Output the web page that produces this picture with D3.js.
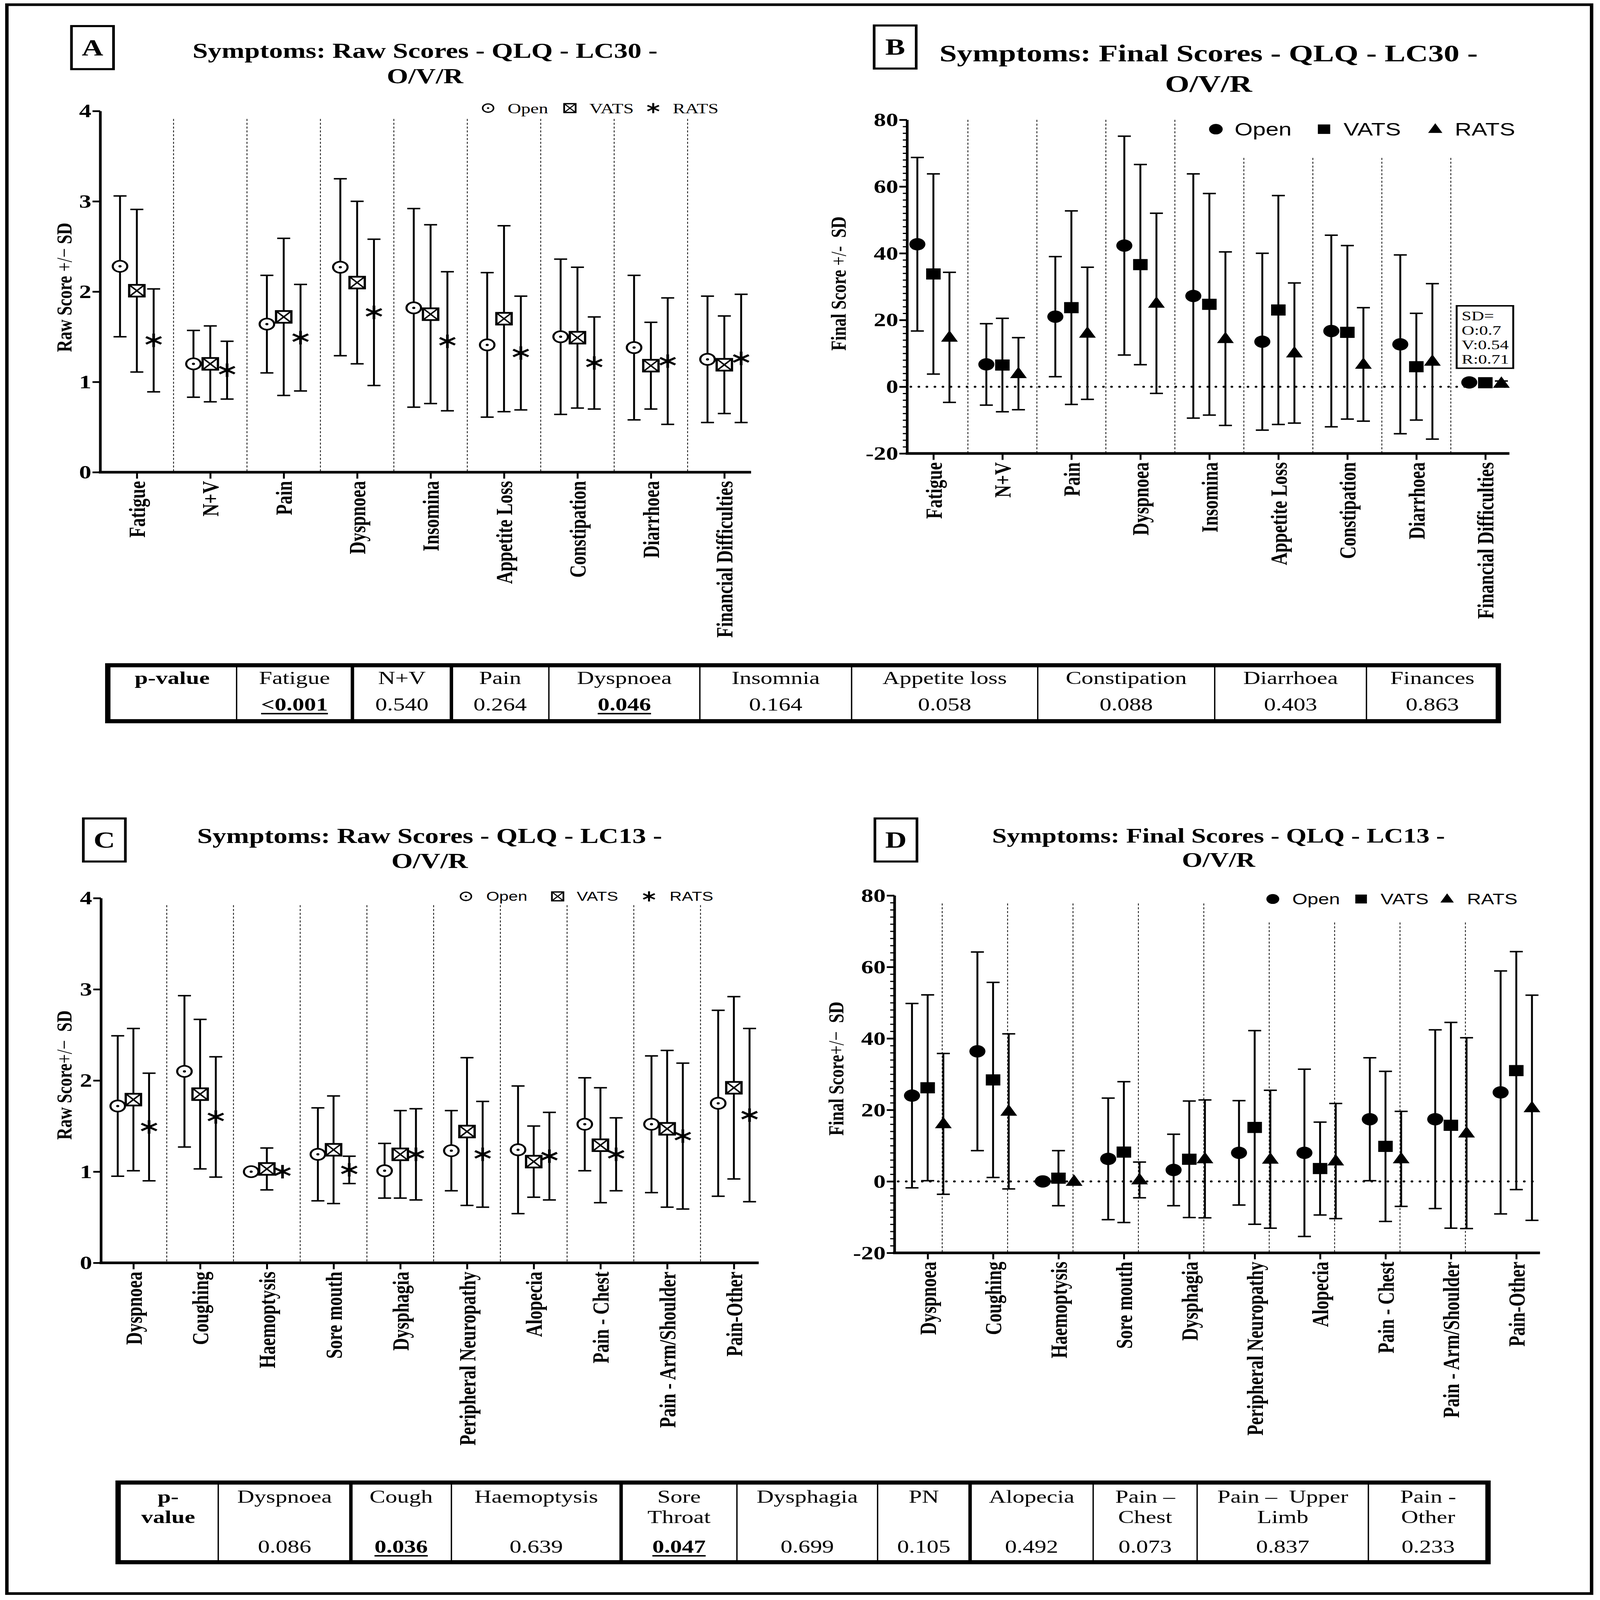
<!DOCTYPE html>
<html>
<head>
<meta charset="utf-8">
<script src="https://cdn.jsdelivr.net/npm/d3@7"></script>
<style>
  html, body { margin: 0; background: #fff; overflow: hidden; }
  svg { display: block; }
  text { white-space: pre; }
</style>
</head>
<body>
<svg id="fig"></svg>
<script>
// ---- data ----
const catsLC30 = ["Fatigue", "N+V", "Pain", "Dyspnoea", "Insomina", "Appetite Loss", "Constipation", "Diarrhoea", "Financial Difficulties"];
const catsLC13 = ["Dyspnoea", "Coughing", "Haemoptysis", "Sore mouth", "Dysphagia", "Peripheral Neuropathy", "Alopecia", "Pain - Chest", "Pain - Arm/Shoulder", "Pain-Other"];
const groups = ["Open", "VATS", "RATS"];

// A: raw scores LC30 (mean, SD)
const rawLC30Open = [2.28, 1.20, 1.64, 2.27, 1.82, 1.41, 1.50, 1.38, 1.25];
const rawLC30OpenSD = [0.78, 0.37, 0.54, 0.98, 1.10, 0.80, 0.86, 0.80, 0.70];
const rawLC30Vats = [2.01, 1.20, 1.72, 2.10, 1.75, 1.70, 1.49, 1.18, 1.19];
const rawLC30VatsSD = [0.90, 0.42, 0.87, 0.90, 0.99, 1.03, 0.78, 0.48, 0.54];
const rawLC30Rats = [1.46, 1.13, 1.49, 1.77, 1.45, 1.32, 1.21, 1.23, 1.26];
const rawLC30RatsSD = [0.57, 0.32, 0.59, 0.81, 0.77, 0.63, 0.51, 0.70, 0.71];

// B: final scores LC30
const finalLC30Open = [42.7, 6.7, 21.0, 42.3, 27.2, 13.5, 16.7, 12.7, 1.3];
const finalLC30OpenSD = [26.0, 12.2, 18.0, 32.8, 36.6, 26.5, 28.7, 26.8, 0.7];
const finalLC30Vats = [33.8, 6.5, 23.7, 36.6, 24.7, 23.0, 16.3, 6.0, 1.2];
const finalLC30VatsSD = [30.0, 14.0, 29.0, 30.0, 33.2, 34.3, 26.0, 16.0, 0.54];
const finalLC30Rats = [14.8, 3.9, 16.0, 25.0, 14.4, 10.1, 6.7, 7.6, 1.0];
const finalLC30RatsSD = [19.5, 10.8, 19.8, 27.0, 26.0, 21.0, 17.0, 23.3, 0.71];
const sdNote = ["SD=", "O:0.7", "V:0.54", "R:0.71"];

// C: raw scores LC13
const rawLC13Open = [1.72, 2.10, 1.00, 1.19, 1.01, 1.23, 1.24, 1.52, 1.52, 1.75];
const rawLC13OpenSD = [0.77, 0.83, 0, 0.51, 0.30, 0.44, 0.70, 0.51, 0.75, 1.02];
const rawLC13Vats = [1.79, 1.85, 1.03, 1.24, 1.19, 1.44, 1.11, 1.29, 1.47, 1.92];
const rawLC13VatsSD = [0.78, 0.82, 0.23, 0.59, 0.48, 0.81, 0.39, 0.63, 0.86, 1.00];
const rawLC13Rats = [1.49, 1.60, 1.00, 1.02, 1.19, 1.19, 1.17, 1.19, 1.39, 1.62];
const rawLC13RatsSD = [0.59, 0.66, 0, 0.15, 0.50, 0.58, 0.48, 0.40, 0.80, 0.95];

// D: final scores LC13
const finalLC13Open = [24.0, 36.4, 0, 6.3, 3.2, 8.0, 8.0, 17.4, 17.4, 24.9];
const finalLC13OpenSD = [25.8, 27.8, 0, 17.0, 10.0, 14.6, 23.4, 17.2, 25.0, 34.0];
const finalLC13Vats = [26.2, 28.4, 0.9, 8.2, 6.2, 15.1, 3.6, 9.8, 15.7, 31.0];
const finalLC13VatsSD = [26.0, 27.3, 7.7, 19.7, 16.3, 27.1, 13.0, 21.0, 28.8, 33.3];
const finalLC13Rats = [16.1, 19.6, 0, 0.4, 6.3, 6.2, 5.7, 6.3, 13.5, 20.6];
const finalLC13RatsSD = [19.7, 21.7, 0, 5.0, 16.5, 19.3, 16.1, 13.3, 26.7, 31.5];

// p-value tables
const pTable1Head = [["p-value"], ["Fatigue"], ["N+V"], ["Pain"], ["Dyspnoea"], ["Insomnia"], ["Appetite loss"], ["Constipation"], ["Diarrhoea"], ["Finances"]];
const pTable1Vals = ["", "<0.001", "0.540", "0.264", "0.046", "0.164", "0.058", "0.088", "0.403", "0.863"];
const pTable1Sig = [false, true, false, false, true, false, false, false, false, false];
const pTable2Head = [["p-", "value"], ["Dyspnoea"], ["Cough"], ["Haemoptysis"], ["Sore", "Throat"], ["Dysphagia"], ["PN"], ["Alopecia"], ["Pain \u2013", "Chest"], ["Pain \u2013  Upper", "Limb"], ["Pain -", "Other"]];
const pTable2Vals = ["", "0.086", "0.036", "0.639", "0.047", "0.699", "0.105", "0.492", "0.073", "0.837", "0.233"];
const pTable2Sig = [false, false, true, false, true, false, false, false, false, false, false];

// ---- drawing ----
const W = 4186, H = 5462;
const SERIF = "'Liberation Serif','Times New Roman',serif";
const SANS = "'Liberation Sans',Arial,sans-serif";
// the figure is laid out on a 4186x5462 canvas and stretched to whatever window it is shown in
const svg = d3.select("#fig")
  .attr("viewBox", `0 0 ${W} ${H}`)
  .attr("preserveAspectRatio", "none")
  .attr("width", window.innerWidth || W)
  .attr("height", window.innerHeight || H);
svg.append("rect").attr("width", W).attr("height", H).attr("fill", "#fff");
svg.append("rect").attr("x", 18).attr("y", 16).attr("width", 4146).attr("height", 5424)
  .attr("fill", "none").attr("stroke", "#000").attr("stroke-width", 9);

function marker(g, type, cx, cy, k = 1) {
  const m = g.append("g").attr("transform", `translate(${cx},${cy}) scale(${k})`);
  if (type === "ring") {
    m.append("circle").attr("r", 19).attr("fill", "#fff").attr("stroke", "#000").attr("stroke-width", 5.5);
    m.append("circle").attr("r", 4).attr("fill", "#000");
  } else if (type === "xbox") {
    m.append("rect").attr("x", -20).attr("y", -20).attr("width", 40).attr("height", 40)
      .attr("fill", "#fff").attr("stroke", "#000").attr("stroke-width", 6);
    m.append("path").attr("d", "M-17,-17L17,17M17,-17L-17,17").attr("stroke", "#000").attr("stroke-width", 4.5);
  } else if (type === "star") {
    m.append("path").attr("d", "M0,-23L0,23M-20,-11.5L20,11.5M-20,11.5L20,-11.5")
      .attr("stroke", "#000").attr("stroke-width", 7);
  } else if (type === "dot") {
    m.append("circle").attr("r", 21).attr("fill", "#000");
  } else if (type === "square") {
    m.append("rect").attr("x", -19).attr("y", -19).attr("width", 38).attr("height", 38).attr("fill", "#000");
  } else if (type === "tri") {
    m.append("path").attr("d", "M0,-24L22,15L-22,15Z").attr("fill", "#000");
  }
}

const panels = [
  {
    letter: "A", box: [187, 89], title: ["Symptoms: Raw Scores - QLQ - LC30 -", "O/V/R"], titleX: 1112, titleY: [197, 284], titleSize: 72,
    cats: catsLC30, yDomain: [0, 4], yTicks: [0, 1, 2, 3, 4], minor: null,
    left: 262, right: 1965, top: 379, bottom: 1612, centers: [358, 1895], offset: 44,
    divTop: () => 406, divX: "mid",
    means: [rawLC30Open, rawLC30Vats, rawLC30Rats], sds: [rawLC30OpenSD, rawLC30VatsSD, rawLC30RatsSD],
    markers: ["ring", "xbox", "star"],
    legend: { y: 369, sym: [1277, 1491, 1709], txt: [1328, 1542, 1760], font: SERIF, size: 49, k: 0.75 },
    ylab: { x: 167, y: 981, parts: [["Raw Score ", "bold"], ["+/\u2212", "normal"], [" SD", "bold"]], size: 57 }
  },
  {
    letter: "B", box: [2287, 87], title: ["Symptoms: Final Scores - QLQ - LC30 -", "O/V/R"], titleX: 3162, titleY: [209, 314], titleSize: 82,
    cats: catsLC30, yDomain: [-20, 80], yTicks: [-20, 0, 20, 40, 60, 80], minor: 2,
    left: 2373, right: 3949, top: 409, bottom: 1548, centers: [2442, 3886], offset: 42,
    divTop: (i) => (i < 4 ? 409 : 539), divX: "mid", zeroLine: true,
    means: [finalLC30Open, finalLC30Vats, finalLC30Rats], sds: [finalLC30OpenSD, finalLC30VatsSD, finalLC30RatsSD],
    markers: ["dot", "square", "tri"],
    legend: { y: 441, sym: [3181, 3464, 3755], txt: [3230, 3515, 3806], font: SANS, size: 61, k: 0.85 },
    ylab: { x: 2193, y: 968, parts: [["Final Score ", "bold"], ["+/-", "normal"], ["  SD", "bold"]], size: 57 },
    note: { x: 3811, y: 1044, w: 148, h: 213, lines: sdNote }
  },
  {
    letter: "C", box: [218, 2794], title: ["Symptoms: Raw Scores - QLQ - LC13 -", "O/V/R"], titleX: 1124, titleY: [2878, 2963], titleSize: 72,
    cats: catsLC13, yDomain: [0, 4], yTicks: [0, 1, 2, 3, 4], minor: null,
    left: 264, right: 1985, top: 3066, bottom: 4311, centers: [349, 1920], offset: 41,
    divTop: () => 3090, divX: "mid",
    means: [rawLC13Open, rawLC13Vats, rawLC13Rats], sds: [rawLC13OpenSD, rawLC13VatsSD, rawLC13RatsSD],
    markers: ["ring", "xbox", "star"],
    legend: { y: 3060, sym: [1219, 1459, 1698], txt: [1272, 1509, 1752], font: SANS, size: 44, k: 0.75 },
    ylab: { x: 167, y: 3670, parts: [["Raw Score", "bold"], ["+/\u2212", "normal"], ["  SD", "bold"]], size: 57 }
  },
  {
    letter: "D", box: [2289, 2794], title: ["Symptoms: Final Scores - QLQ - LC13 -", "O/V/R"], titleX: 3188, titleY: [2876, 2959], titleSize: 69,
    cats: catsLC13, yDomain: [-20, 80], yTicks: [-20, 0, 20, 40, 60, 80], minor: 2,
    left: 2340, right: 4029, top: 3057, bottom: 4277, centers: [2427, 3967], offset: 41,
    divTop: (i) => (i < 5 ? 3084 : 3149), divX: 38, zeroLine: true,
    means: [finalLC13Open, finalLC13Vats, finalLC13Rats], sds: [finalLC13OpenSD, finalLC13VatsSD, finalLC13RatsSD],
    markers: ["dot", "square", "tri"],
    legend: { y: 3069, sym: [3330, 3561, 3786], txt: [3381, 3612, 3838], font: SANS, size: 51, k: 0.8 },
    ylab: { x: 2186, y: 3648, parts: [["Final Score", "bold"], ["+/\u2212", "normal"], ["  SD", "bold"]], size: 57 }
  }
];

function drawPanel(p) {
  const g = svg.append("g");
  const y = d3.scaleLinear().domain(p.yDomain).range([p.bottom, p.top]);
  const x = d3.scalePoint().domain(p.cats).range(p.centers);

  // letter box + title
  g.append("rect").attr("x", p.box[0]).attr("y", p.box[1]).attr("width", 110).attr("height", 147)
    .attr("fill", "none").attr("stroke", "#000").attr("stroke-width", 7);
  g.append("text").attr("x", p.box[0] + 55).attr("y", p.box[1] + 100).attr("text-anchor", "middle")
    .attr("font-family", SERIF).attr("font-weight", "bold").attr("font-size", 78).text(p.letter);
  p.title.forEach((t, i) => {
    g.append("text").attr("x", p.titleX).attr("y", p.titleY[i]).attr("text-anchor", "middle")
      .attr("font-family", SERIF).attr("font-weight", "bold").attr("font-size", p.titleSize).text(t);
  });

  // category dividers
  p.cats.slice(0, -1).forEach((c, i) => {
    const dx = p.divX === "mid" ? (x(c) + x(p.cats[i + 1])) / 2 : x(c) + p.divX;
    g.append("line").attr("x1", dx).attr("x2", dx).attr("y1", p.divTop(i)).attr("y2", p.bottom)
      .attr("stroke", "#000").attr("stroke-width", 2).attr("stroke-dasharray", "7,6");
  });

  if (p.zeroLine) {
    g.append("line").attr("x1", p.left + 10).attr("x2", p.right).attr("y1", y(0)).attr("y2", y(0))
      .attr("stroke", "#000").attr("stroke-width", 7).attr("stroke-linecap", "round").attr("stroke-dasharray", "0,21");
  }

  // y axis
  if (p.minor) {
    g.append("g").attr("transform", `translate(${p.left},0)`)
      .call(d3.axisLeft(y).tickValues(d3.range(p.yDomain[0], p.yDomain[1] + 0.1, p.minor)).tickSize(11).tickFormat(""))
      .call((a) => a.select(".domain").remove())
      .selectAll("line").attr("stroke-width", 4);
  }
  const ya = g.append("g").attr("transform", `translate(${p.left},0)`)
    .call(d3.axisLeft(y).tickValues(p.yTicks).tickFormat((d) => String(d)).tickSize(20).tickSizeOuter(0).tickPadding(3));
  ya.select(".domain").attr("stroke-width", 7);
  ya.selectAll(".tick line").attr("stroke-width", 6);
  ya.selectAll(".tick text").attr("font-family", SERIF).attr("font-weight", "bold").attr("font-size", 64).attr("dy", "0.33em");

  // x axis
  const xa = g.append("g").attr("transform", `translate(0,${p.bottom})`)
    .call(d3.axisBottom(x).tickSize(22).tickSizeOuter(0));
  xa.select(".domain").remove();
  xa.selectAll(".tick line").attr("stroke-width", 5);
  xa.selectAll(".tick text").attr("transform", "rotate(-90)").attr("text-anchor", "end")
    .attr("x", -30).attr("y", 0).attr("dy", "0.35em")
    .attr("font-family", SERIF).attr("font-weight", "bold").attr("font-size", 60);
  g.append("line").attr("x1", p.left - 3.5).attr("x2", p.right).attr("y1", p.bottom).attr("y2", p.bottom)
    .attr("stroke", "#000").attr("stroke-width", 9);

  // y label
  const yl = g.append("text").attr("transform", `translate(${p.ylab.x},${p.ylab.y}) rotate(-90)`)
    .attr("text-anchor", "middle").attr("dy", "0.35em")
    .attr("font-family", SERIF).attr("font-size", p.ylab.size);
  p.ylab.parts.forEach(([t, w]) => yl.append("tspan").attr("font-weight", w).text(t));

  // error bars + markers
  p.means.forEach((arr, s) => {
    const off = (s - 1) * p.offset;
    arr.forEach((m, i) => {
      const cx = x(p.cats[i]) + off;
      const sd = p.sds[s][i];
      if (sd > 0) {
        const y1 = y(m + sd), y2 = y(m - sd);
        g.append("path").attr("d", `M${cx},${y1}V${y2}M${cx - 17},${y1}H${cx + 17}M${cx - 17},${y2}H${cx + 17}`)
          .attr("stroke", "#000").attr("stroke-width", 5).attr("fill", "none");
      }
    });
  });
  p.means.forEach((arr, s) => {
    const off = (s - 1) * p.offset;
    arr.forEach((m, i) => marker(g, p.markers[s], x(p.cats[i]) + off, y(m)));
  });

  // legend
  groups.forEach((name, s) => {
    marker(g, p.markers[s], p.legend.sym[s], p.legend.y, p.legend.k);
    g.append("text").attr("x", p.legend.txt[s]).attr("y", p.legend.y).attr("dy", "0.35em")
      .attr("font-family", p.legend.font).attr("font-size", p.legend.size).text(name);
  });

  if (p.note) {
    g.append("rect").attr("x", p.note.x).attr("y", p.note.y).attr("width", p.note.w).attr("height", p.note.h)
      .attr("fill", "#fff").attr("stroke", "#000").attr("stroke-width", 5);
    p.note.lines.forEach((t, i) => {
      g.append("text").attr("x", p.note.x + 13).attr("y", p.note.y + 50 + i * 49)
        .attr("font-family", SERIF).attr("font-size", 46).text(t);
    });
  }
}

panels.forEach(drawPanel);

const tables = [
  { edges: [282, 619, 922, 1181, 1436, 1831, 2228, 2715, 3178, 3575, 3920], thick: [2, 3],
    top: 2271, bottom: 2462, headY: [2335], valY: 2425, head: pTable1Head, vals: pTable1Vals, sig: pTable1Sig },
  { edges: [309, 571, 918, 1181, 1625, 1928, 2296, 2538, 2860, 3132, 3580, 3893], thick: [2, 4, 7],
    top: 5061, bottom: 5333, headY: [5130, 5199], valY: 5300, head: pTable2Head, vals: pTable2Vals, sig: pTable2Sig }
];

function drawTable(t) {
  const g = svg.append("g");
  const x0 = t.edges[0], x1 = t.edges[t.edges.length - 1];
  t.edges.slice(1, -1).forEach((e, i) => {
    g.append("line").attr("x1", e).attr("x2", e).attr("y1", t.top).attr("y2", t.bottom)
      .attr("stroke", "#000").attr("stroke-width", t.thick.includes(i + 1) ? 9 : 3.5);
  });
  g.append("rect").attr("x", x0).attr("y", t.top).attr("width", x1 - x0).attr("height", t.bottom - t.top)
    .attr("fill", "none").attr("stroke", "#000").attr("stroke-width", 14);
  t.head.forEach((lines, i) => {
    const cx = (t.edges[i] + t.edges[i + 1]) / 2;
    lines.forEach((ln, j) => {
      g.append("text").attr("x", cx).attr("y", t.headY[j]).attr("text-anchor", "middle")
        .attr("font-family", SERIF).attr("font-size", 62).attr("font-weight", i === 0 ? "bold" : "normal").text(ln);
    });
  });
  t.vals.forEach((v, i) => {
    if (!v) return;
    const cx = (t.edges[i] + t.edges[i + 1]) / 2;
    const tx = g.append("text").attr("x", cx).attr("y", t.valY).attr("text-anchor", "middle")
      .attr("font-family", SERIF).attr("font-size", 62).attr("font-weight", t.sig[i] ? "bold" : "normal").text(v);
    if (t.sig[i]) {
      const w = tx.node().getComputedTextLength();
      g.append("line").attr("x1", cx - w / 2).attr("x2", cx + w / 2).attr("y1", t.valY + 11).attr("y2", t.valY + 11)
        .attr("stroke", "#000").attr("stroke-width", 5);
    }
  });
}

tables.forEach(drawTable);
</script>
</body>
</html>
